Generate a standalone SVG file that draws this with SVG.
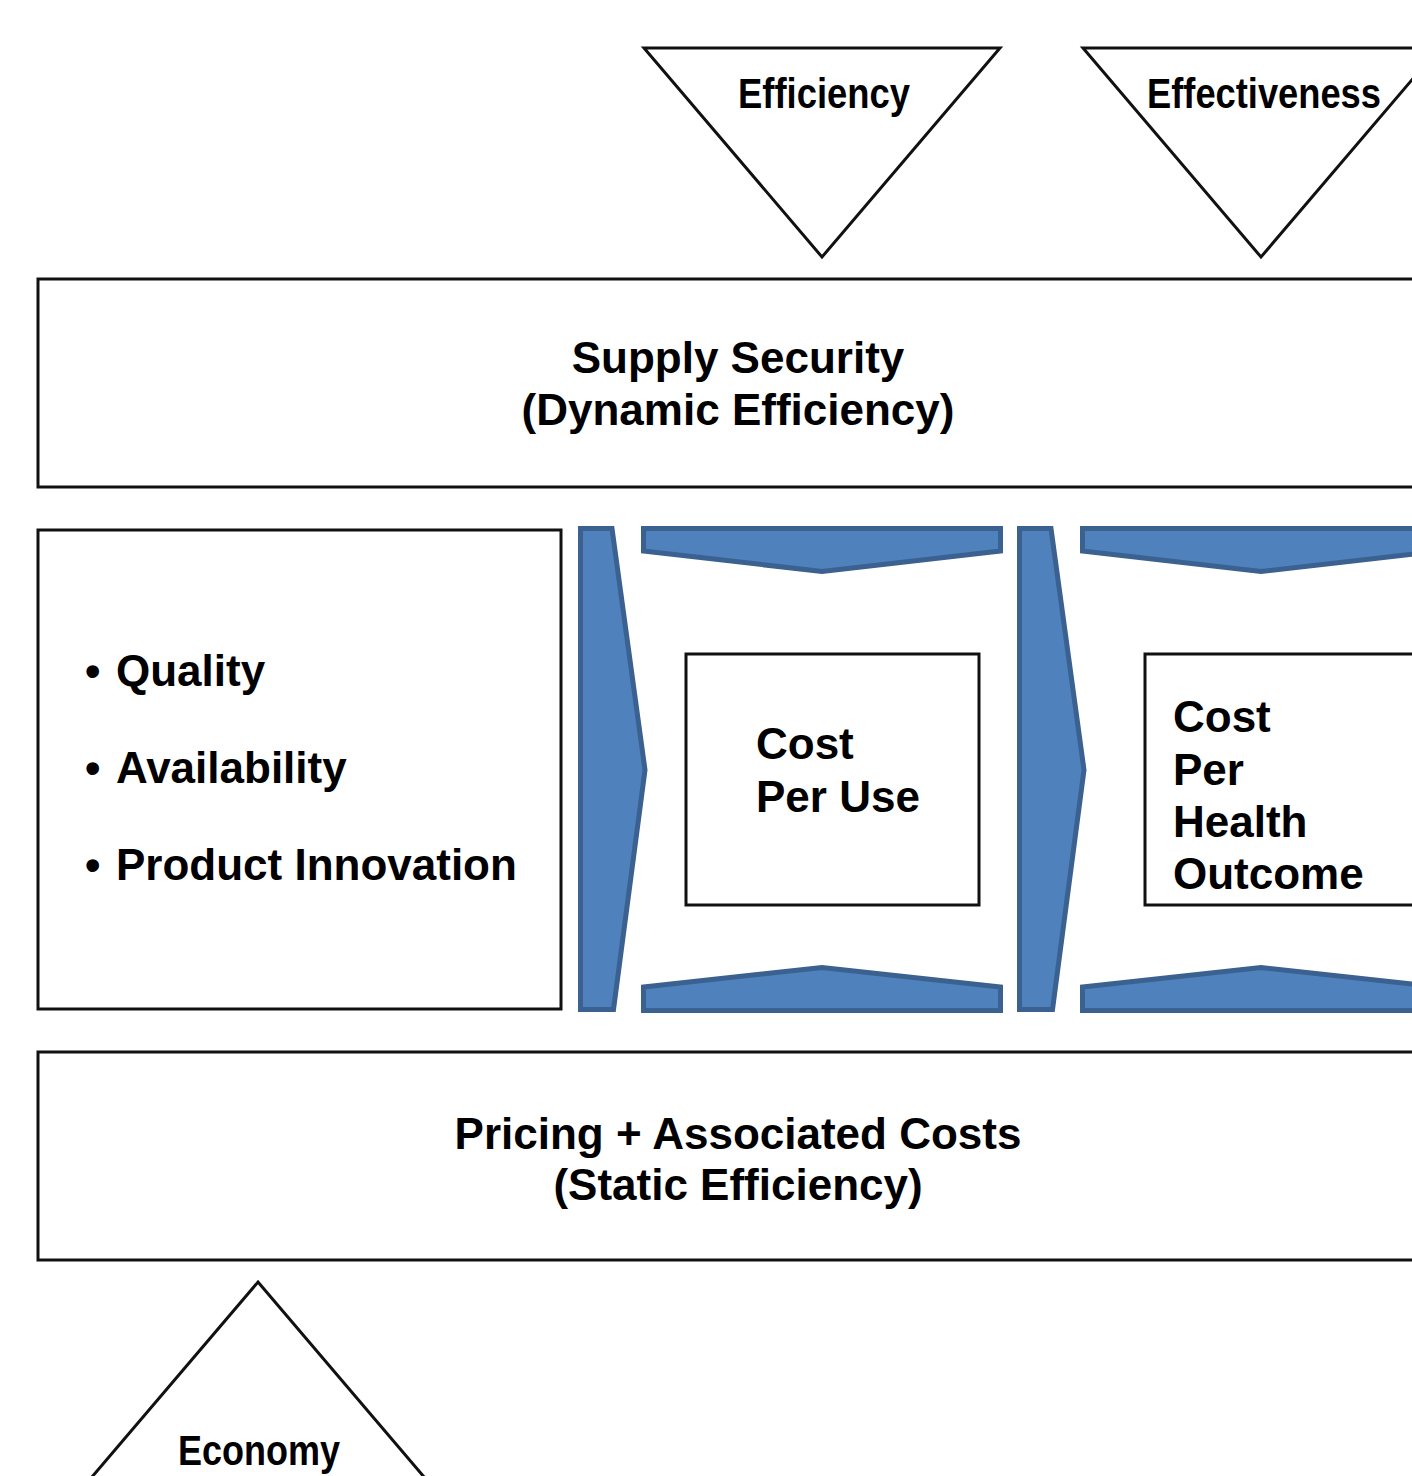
<svg xmlns="http://www.w3.org/2000/svg" width="1412" height="1476" viewBox="0 0 1412 1476">
  <style>
    .box { fill: #ffffff; stroke: #111111; stroke-width: 3; }
    .tri { fill: #ffffff; stroke: #111111; stroke-width: 3; stroke-linejoin: miter; }
    .chev { fill: #4F81BD; stroke: #3A6190; stroke-width: 5; stroke-linejoin: miter; }
    .lbl { font-family: "Liberation Sans", Arial, sans-serif; font-weight: bold; font-size: 44px; fill: #000000; }
    .mid { text-anchor: middle; }
    .narrow { font-family: "Liberation Sans Narrow", "Liberation Sans", Arial, sans-serif; font-stretch: condensed; font-weight: bold; font-size: 43px; fill: #000000; }
  </style>
  <rect width="1412" height="1476" fill="#ffffff"/>

  <!-- top indicators -->
  <g id="efficiency">
    <polygon class="tri" points="644,48 1000,48 822,257"/>
    <text class="narrow" x="738" y="108" textLength="172" lengthAdjust="spacingAndGlyphs">Efficiency</text>
  </g>
  <g id="effectiveness">
    <polygon class="tri" points="1083,48 1439,48 1261,257"/>
    <text class="narrow" x="1147" y="108" textLength="234" lengthAdjust="spacingAndGlyphs">Effectiveness</text>
  </g>

  <!-- dynamic efficiency band -->
  <g id="supply-security">
    <rect class="box" x="38" y="279" width="1400" height="208"/>
    <text class="lbl mid" x="738" y="373">Supply Security</text>
    <text class="lbl mid" x="738" y="425">(Dynamic Efficiency)</text>
  </g>

  <!-- value drivers -->
  <g id="drivers">
    <rect class="box" x="38" y="530" width="523" height="479"/>
    <text class="lbl" x="85" y="686">•</text>
    <text class="lbl" x="116" y="686">Quality</text>
    <text class="lbl" x="85" y="783">•</text>
    <text class="lbl" x="116" y="783">Availability</text>
    <text class="lbl" x="85" y="880">•</text>
    <text class="lbl" x="116" y="880">Product Innovation</text>
  </g>

  <!-- chevron frames -->
  <g id="connectors">
    <polygon class="chev" points="580.5,528.5 612,528.5 645,770 613.5,1009.5 580.5,1009.5"/>
    <polygon class="chev" points="643.5,528.5 1000.5,528.5 1000.5,551 822,571.5 643.5,551"/>
    <polygon class="chev" points="643.5,987 822,967.5 1000.5,987 1000.5,1010.5 643.5,1010.5"/>
    <polygon class="chev" points="1019.5,528.5 1051,528.5 1084,770 1052.5,1009.5 1019.5,1009.5"/>
    <polygon class="chev" points="1082.5,528.5 1439.5,528.5 1439.5,551 1261,571.5 1082.5,551"/>
    <polygon class="chev" points="1082.5,987 1261,967.5 1439.5,987 1439.5,1010.5 1082.5,1010.5"/>
  </g>

  <g id="cost-per-use">
    <rect class="box" x="686" y="654" width="293" height="251"/>
    <text class="lbl" x="756" y="759">Cost</text>
    <text class="lbl" x="756" y="812">Per Use</text>
  </g>

  <g id="cost-per-outcome">
    <rect class="box" x="1145" y="654" width="293" height="251"/>
    <text class="lbl" x="1173" y="732">Cost</text>
    <text class="lbl" x="1173" y="785">Per</text>
    <text class="lbl" x="1173" y="837">Health</text>
    <text class="lbl" x="1173" y="889">Outcome</text>
  </g>

  <!-- static efficiency band -->
  <g id="pricing">
    <rect class="box" x="38" y="1052" width="1400" height="208"/>
    <text class="lbl mid" x="738" y="1149">Pricing + Associated Costs</text>
    <text class="lbl mid" x="738" y="1200">(Static Efficiency)</text>
  </g>

  <!-- bottom indicator -->
  <g id="economy">
    <polygon class="tri" points="258,1282 436,1491 80,1491"/>
    <text class="narrow" x="178" y="1465" textLength="162" lengthAdjust="spacingAndGlyphs">Economy</text>
  </g>
</svg>
